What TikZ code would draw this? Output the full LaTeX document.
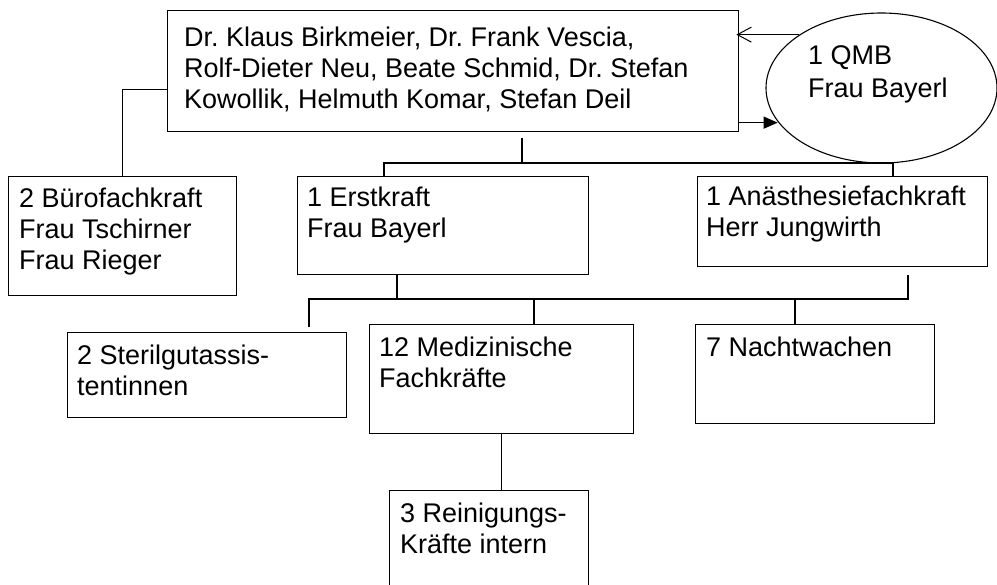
\documentclass[tikz,border=0pt]{standalone}
\usepackage{fontspec}
\setmainfont{Liberation Sans}
\usetikzlibrary{shapes.geometric,arrows.meta}
\frenchspacing
\newcommand{\orgfont}{\fontsize{27}{31}\selectfont}
\tikzset{
  kasten/.style={draw, line width=1.3pt, anchor=north west, inner sep=0pt},
  schrift/.style={anchor=north west, align=left, inner sep=0pt, font=\orgfont},
  linie/.style={line width=1.2pt},
}

\begin{document}
\begin{tikzpicture}[x=1pt,y=-1pt]
\useasboundingbox (0,0) rectangle (997,585);
\clip (0,0) rectangle (997,585);

\node[kasten, minimum width=571, minimum height=121] (chef) at (167,10) {};
\node[kasten, minimum width=228, minimum height=119] (buero) at (8,176) {};
\node[kasten, minimum width=291, minimum height=98] (erst) at (297,176) {};
\node[kasten, minimum width=290, minimum height=90] (anae) at (697,176) {};
\node[kasten, minimum width=279, minimum height=85] (steril) at (67,332) {};
\node[kasten, minimum width=264, minimum height=109] (medi) at (369,324) {};
\node[kasten, minimum width=239, minimum height=99] (nacht) at (695,324) {};
\node[kasten, minimum width=199, minimum height=120] (rein) at (389,490) {};
\node[draw, ellipse, line width=1.1pt, minimum width=231, minimum height=150, inner sep=0pt] (qmb) at (881.5,88) {};

\node[schrift] (chef-t) at ([shift={(17,17)}]chef.north west) {Dr. Klaus Birkmeier, Dr. Frank Vescia,\\Rolf-Dieter Neu, Beate Schmid, Dr. Stefan\\Kowollik, Helmuth Komar, Stefan Deil};
\node[schrift] (buero-t) at ([shift={(11,12)}]buero.north west) {2 Bürofachkraft\\Frau Tschirner\\Frau Rieger};
\node[schrift] (erst-t) at ([shift={(10,11)}]erst.north west) {1 Erstkraft\\Frau Bayerl};
\node[schrift] (anae-t) at ([shift={(9,10)}]anae.north west) {1 Anästhesiefachkraft\\Herr Jungwirth};
\node[schrift] (steril-t) at ([shift={(10,13)}]steril.north west) {2 Sterilgutassis-\\tentinnen};
\node[schrift] (medi-t) at ([shift={(10,13)}]medi.north west) {12 Medizinische\\Fachkräfte};
\node[schrift] (nacht-t) at ([shift={(11,13)}]nacht.north west) {7 Nachtwachen};
\node[schrift] (rein-t) at ([shift={(11,13)}]rein.north west) {3 Reinigungs-\\Kräfte intern};
\node[schrift, font={\fontsize{27}{33}\selectfont}] (qmb-t) at ([shift={(-73.5,-43)}]qmb.center) {1 QMB\\Frau Bayerl};

\coordinate (t1) at (522,138);
\coordinate (b1l) at (384,163);
\coordinate (b1m) at (522,163);
\coordinate (b1r) at (893,163);
\coordinate (b2l) at (309,299);
\coordinate (b2e) at (397,299);
\coordinate (b2m) at (534,299);
\coordinate (b2n) at (795,299);
\coordinate (b2r) at (908,299);

\draw[linie] ([yshift=-18.5pt]chef.west) -| (buero.north);
\draw[linie] (t1) -- (b1m);
\draw[linie] (b1l |- erst.north) |- (b1r) -- (b1r |- anae.north);
\draw[linie] (b2e |- erst.south) -- (b2e);
\draw[linie] ([yshift=5pt]b2l |- steril.north) -- (b2l) -- (b2r) -- ([yshift=-8pt]b2r |- anae.south);
\draw[linie] (b2m) -- (b2m |- medi.north);
\draw[linie] (b2n) -- (b2n |- nacht.north);
\draw[linie] (medi.south) -- (medi.south |- rein.north);

\draw[line width=1pt, -{Straight Barb[length=14pt,width=15pt]}, shorten >=-3pt] (qmb.147) -- (qmb.147 -| chef.east);
\coordinate (a2) at ([yshift=-51.5pt]chef.east);
\draw[linie, -{Triangle[length=14pt,width=12pt]}] (a2) -- (a2 -| qmb.198);
\end{tikzpicture}
\end{document}
